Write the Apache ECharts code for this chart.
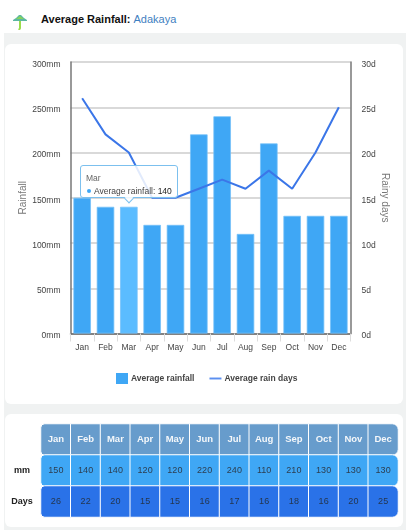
<!DOCTYPE html>
<html><head><meta charset="utf-8">
<style>
html,body{margin:0;padding:0;background:#fff;font-family:"Liberation Sans",Arial,sans-serif;}
#wrap{position:relative;width:406px;height:530px;overflow:hidden;}
#band{position:absolute;left:4px;top:33px;width:402px;height:497px;background:#f0f2f2;}
.card{position:absolute;left:5px;width:398px;background:#fff;border-radius:6px;}
#title{position:absolute;left:41px;top:11px;font-size:11px;font-weight:bold;color:#111;line-height:16px;}
#title span{font-weight:normal;color:#3f7fc1;}
#icon{position:absolute;left:13px;top:13px;}
#chart{position:absolute;left:0;top:0;width:406px;height:530px;}
</style></head><body>
<div id="wrap">
<svg id="icon" width="14" height="17" viewBox="0 0 14 17"><path d="M0 7 L3 5 L6 2 L8 2 L11 5 L14 7 L14 8 L0 8 Z" fill="#5cb8a0"/><path d="M3 6 L7 3 L11 6 Z" fill="#86d35a"/><path d="M7 8 V15 Q7 16.5 5.5 16" stroke="#9bdc4c" stroke-width="2" fill="none"/></svg>
<div id="title">Average Rainfall: <span>Adakaya</span></div>
<div id="band"></div>
<div class="card" style="top:44px;height:360px"></div>
<div class="card" style="top:414px;height:113px"></div>
<div id="chart"></div>
</div>
<script src="https://cdn.jsdelivr.net/npm/echarts@6/dist/echarts.min.js"></script>
<script>
const months=['Jan','Feb','Mar','Apr','May','Jun','Jul','Aug','Sep','Oct','Nov','Dec'];
const rainfall=[150,140,140,120,120,220,240,110,210,130,130,130];
const rainDays=[26,22,20,15,15,16,17,16,18,16,20,25];
const rowLabels=['Days','mm',' '];
const chart=echarts.init(document.getElementById('chart'),null,{renderer:'canvas'});
function cellRow(vals,row,color,txt,bold){
  return vals.map((v,i)=>({
    value:[i,row,i],
    itemStyle:{color:color,borderRadius:i===0?[4,0,0,4]:(i===11?[0,6,6,0]:0)},
    label:{color:txt,fontWeight:bold?'bold':'normal',fontSize:bold?9.5:9,formatter:String(v)}
  }));
}
const tableData=[].concat(
  cellRow(months,2,'#679ccc','#f4f7fa',true),
  cellRow(rainfall,1,'#3fa7f5','#2c3e50',false),
  cellRow(rainDays,0,'#2a72e8','#24364f',false)
);
chart.setOption({
  animation:false,
  textStyle:{fontFamily:'"Liberation Sans",Arial,sans-serif'},
  tooltip:{
    trigger:'item',position:'top',transitionDuration:0,showDelay:0,hideDelay:1e9,alwaysShowContent:true,
    backgroundColor:'rgba(255,255,255,0.85)',borderColor:'#7cc0ee',borderWidth:1.5,borderRadius:3,
    padding:[6,5,0,5],shadowBlur:0,
    extraCssText:'box-shadow:none;margin-top:2px;border-color:#7cc0ee;',
    textStyle:{fontSize:9,color:'#555'},
    formatter:p=>'<div style="line-height:12px;width:84px;white-space:nowrap;font-size:8.5px;color:#666">'+p.name+'</div>'+
      '<div style="line-height:12px;margin-top:1px;white-space:nowrap;font-size:8.5px;color:#444"><span style="display:inline-block;width:4px;height:4px;border-radius:50%;background:#3fa7f5;margin:0 3px 1px 1px"></span>'+p.seriesName+': <span style="color:#222">'+p.value+'</span></div>'
  },
  legend:{
    top:373,left:116,padding:0,itemWidth:12,itemHeight:11,itemGap:15,
    data:[{name:'Average rainfall',icon:'rect',itemStyle:{borderWidth:0}},{name:'Average rain days',icon:'path://M0 0H100V16H0Z'}],
    textStyle:{fontSize:8.5,color:'#444',fontWeight:'bold',padding:[0,0,0,-2]},selectedMode:false
  },
  grid:[
    {left:70.5,top:62,width:280,height:271.5},
    {left:41,top:424,width:357,height:93}
  ],
  xAxis:[
    {type:'category',gridIndex:0,data:months,boundaryGap:true,
     axisLine:{show:true,lineStyle:{color:'#666',width:1.5}},
     axisTick:{show:true,alignWithLabel:false,length:8,lineStyle:{color:'#ddd'}},
     axisLabel:{fontSize:8.5,color:'#444',margin:10,interval:0}},
    {type:'category',gridIndex:1,data:months,position:'top',show:false,splitArea:{show:false}}
  ],
  yAxis:[
    {type:'value',gridIndex:0,min:0,max:300,interval:50,position:'left',
     name:'Rainfall',nameLocation:'middle',nameGap:42,nameMoveOverlap:false,nameTextStyle:{fontSize:10,color:'#777'},
     axisLine:{show:true,lineStyle:{color:'#777',width:1.5}},axisTick:{show:false},
     axisLabel:{fontSize:8.5,color:'#444',formatter:'{value}mm',margin:10,verticalAlign:'top',lineHeight:5},
     splitLine:{show:true,lineStyle:{color:'#ccc',width:1.5}}},
    {type:'value',gridIndex:0,min:0,max:30,interval:5,position:'right',
     name:'Rainy days',nameLocation:'middle',nameGap:29,nameMoveOverlap:false,nameRotate:-90,nameTextStyle:{fontSize:10,color:'#777'},
     axisLine:{show:true,lineStyle:{color:'#777',width:1.5}},axisTick:{show:false},
     axisLabel:{fontSize:8.5,color:'#444',formatter:'{value}d',margin:11,verticalAlign:'top',lineHeight:5},
     splitLine:{show:false}},
    {type:'category',gridIndex:1,data:rowLabels,
     axisLine:{show:false},axisTick:{show:false},
     axisLabel:{fontSize:9,fontWeight:'bold',color:'#222',margin:19,align:'center'}}
  ],
  series:[
    {name:'Average rainfall',type:'bar',xAxisIndex:0,yAxisIndex:0,barWidth:17.5,
     itemStyle:{color:'#3fa7f5',borderColor:'#74c0f8',borderWidth:0.75},
     emphasis:{disabled:true},
     data:rainfall.map((v,i)=>i===2?{value:v,itemStyle:{color:'#5bbcff'}}:v)},
    {name:'Average rain days',type:'line',xAxisIndex:0,yAxisIndex:1,data:rainDays,
     symbol:'none',itemStyle:{color:'#5b8ff0'},lineStyle:{color:'#3b76e8',width:2},smooth:false,tooltip:{show:false},silent:true},
    {name:'table',type:'heatmap',xAxisIndex:1,yAxisIndex:2,data:tableData,silent:true,tooltip:{show:false},
     itemStyle:{borderColor:'#fff',borderWidth:1},
     label:{show:true,fontSize:9},
     emphasis:{disabled:true}}
  ]
});
chart.dispatchAction({type:'showTip',seriesIndex:0,dataIndex:2});
</script></body></html>
